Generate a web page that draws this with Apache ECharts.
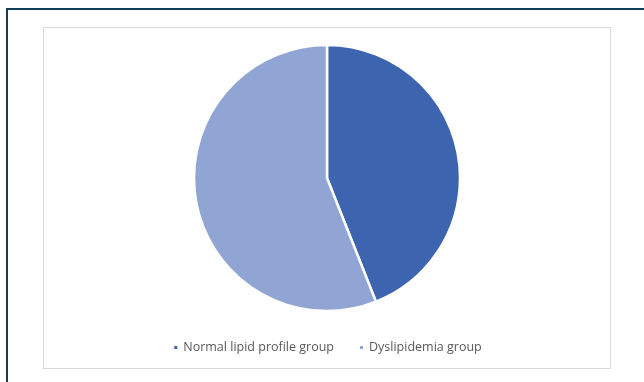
<!DOCTYPE html>
<html>
<head>
<meta charset="utf-8">
<script src="https://cdn.jsdelivr.net/npm/echarts@6/dist/echarts.min.js"></script>
<style>
  body { margin: 0; background: #fff; width: 644px; height: 382px; overflow: hidden; position: relative; }
  #frame { position: absolute; left: 6px; top: 8px; width: 700px; height: 400px; border: 2px solid #0f3f5b; box-sizing: border-box; }
  #box { position: absolute; left: 43px; top: 27px; width: 568px; height: 342px; border: 1px solid #d9d9d9; box-sizing: border-box; background: #fff; }
  #chart { width: 566px; height: 340px; }
</style>
</head>
<body>
<div id="frame"></div>
<div id="box"><div id="chart"></div></div>
<script>
// 分组
var groups = ['Normal lipid profile group', 'Dyslipidemia group'];
// 占比 (%)
var shares = [44, 56];
var colors = ['#3d64ae', '#91a5d5'];

var pieData = [];
for (var i = 0; i < groups.length; i++) {
  pieData.push({ name: groups[i], value: shares[i], itemStyle: { color: colors[i] } });
}

var myChart = echarts.init(document.getElementById('chart'));
var option = {
  animation: false,
  legend: {
    data: groups,
    bottom: 9,
    left: 'center',
    icon: 'rect',
    itemWidth: 5,
    itemHeight: 5,
    itemGap: 24,
    textStyle: { color: '#595959', fontSize: 12.5, fontFamily: 'Open Sans' }
  },
  series: [
    {
      type: 'pie',
      center: [283, 150],
      radius: 133,
      startAngle: 90,
      clockwise: true,
      label: { show: false },
      labelLine: { show: false },
      itemStyle: { borderColor: '#fff', borderWidth: 2.5 },
      data: pieData
    }
  ]
};
myChart.setOption(option);
</script>
</body>
</html>
